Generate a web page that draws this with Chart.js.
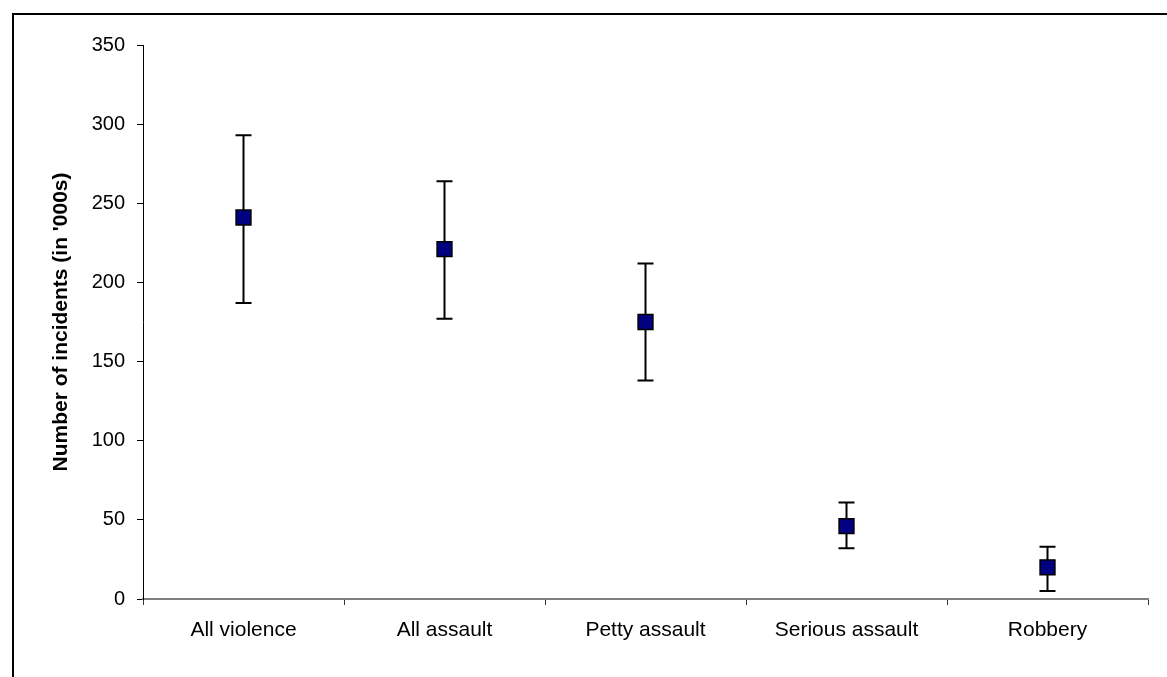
<!DOCTYPE html>
<html>
<head>
<meta charset="utf-8">
<script src="https://cdn.jsdelivr.net/npm/chart.js@4/dist/chart.umd.min.js"></script>
<style>
  html, body { margin: 0; padding: 0; background: #fff; overflow: hidden; }
  #wrap { position: relative; width: 1167px; height: 677px; }
  #frame { position: absolute; left: 12px; top: 13px; width: 1200px; height: 700px;
           border: 2px solid #000; pointer-events: none; }
</style>
</head>
<body>
<div id="wrap">
  <canvas id="chart" width="1167" height="677"></canvas>
  <div id="frame"></div>
</div>
<script>
// Incident estimates with confidence limits (in '000s)
const categories = ['All violence', 'All assault', 'Petty assault', 'Serious assault', 'Robbery'];
const estimates = [241, 221, 175, 46, 20];
const upperLimit = [293, 264, 212, 61, 33];
const lowerLimit = [187, 177, 138, 32, 5];
const yTicks = [0, 50, 100, 150, 200, 250, 300, 350];

const family = '"Liberation Sans", Arial, sans-serif';

// draws the vertical whiskers with caps behind the markers
const errorBars = {
  id: 'errorBars',
  beforeDatasetsDraw(chart) {
    const ctx = chart.ctx;
    const x = chart.scales.x, y = chart.scales.y;
    ctx.save();
    ctx.strokeStyle = '#000';
    ctx.lineWidth = 2;
    categories.forEach((c, i) => {
      const px = x.getPixelForValue(i);
      const top = y.getPixelForValue(upperLimit[i]);
      const bot = y.getPixelForValue(lowerLimit[i]);
      ctx.beginPath();
      ctx.moveTo(px, top); ctx.lineTo(px, bot);
      ctx.moveTo(px - 8, top); ctx.lineTo(px + 8, top);
      ctx.moveTo(px - 8, bot); ctx.lineTo(px + 8, bot);
      ctx.stroke();
    });
    ctx.restore();
  }
};

new Chart(document.getElementById('chart'), {
  type: 'line',
  data: {
    labels: categories,
    datasets: [{
      data: estimates,
      showLine: false,
      pointStyle: 'rect',
      pointRadius: 10.5,
      pointHoverRadius: 10.5,
      pointBackgroundColor: '#000080',
      pointBorderColor: '#000',
      pointBorderWidth: 1.5
    }]
  },
  options: {
    responsive: false,
    animation: false,
    events: [],
    layout: { padding: { left: 0, top: 45, right: 19, bottom: 0 } },
    plugins: { legend: { display: false }, tooltip: { enabled: false } },
    scales: {
      x: {
        offset: true,
        afterFit(scale) { scale.height = 78; },
        grid: { offset: true, drawOnChartArea: false, drawTicks: true, tickLength: 6, color: '#333' },
        border: { color: '#7f7f7f', width: 2 },
        ticks: { color: '#000', font: { family: family, size: 21 }, padding: 13, maxRotation: 0 }
      },
      y: {
        min: 0,
        max: 350,
        afterFit(scale) { scale.width = 143; },
        afterBuildTicks(scale) { scale.ticks = yTicks.map(v => ({ value: v })); },
        grid: { drawOnChartArea: false, drawTicks: true, tickLength: 6, color: '#000' },
        border: { color: '#000', width: 1 },
        ticks: { color: '#000', font: { family: family, size: 20 }, padding: 12 },
        title: {
          display: true,
          text: "Number of incidents (in '000s)",
          color: '#000',
          font: { family: family, size: 21, weight: 'bold' },
          padding: { top: 49, bottom: 0 }
        }
      }
    }
  },
  plugins: [errorBars]
});
</script>
</body>
</html>
